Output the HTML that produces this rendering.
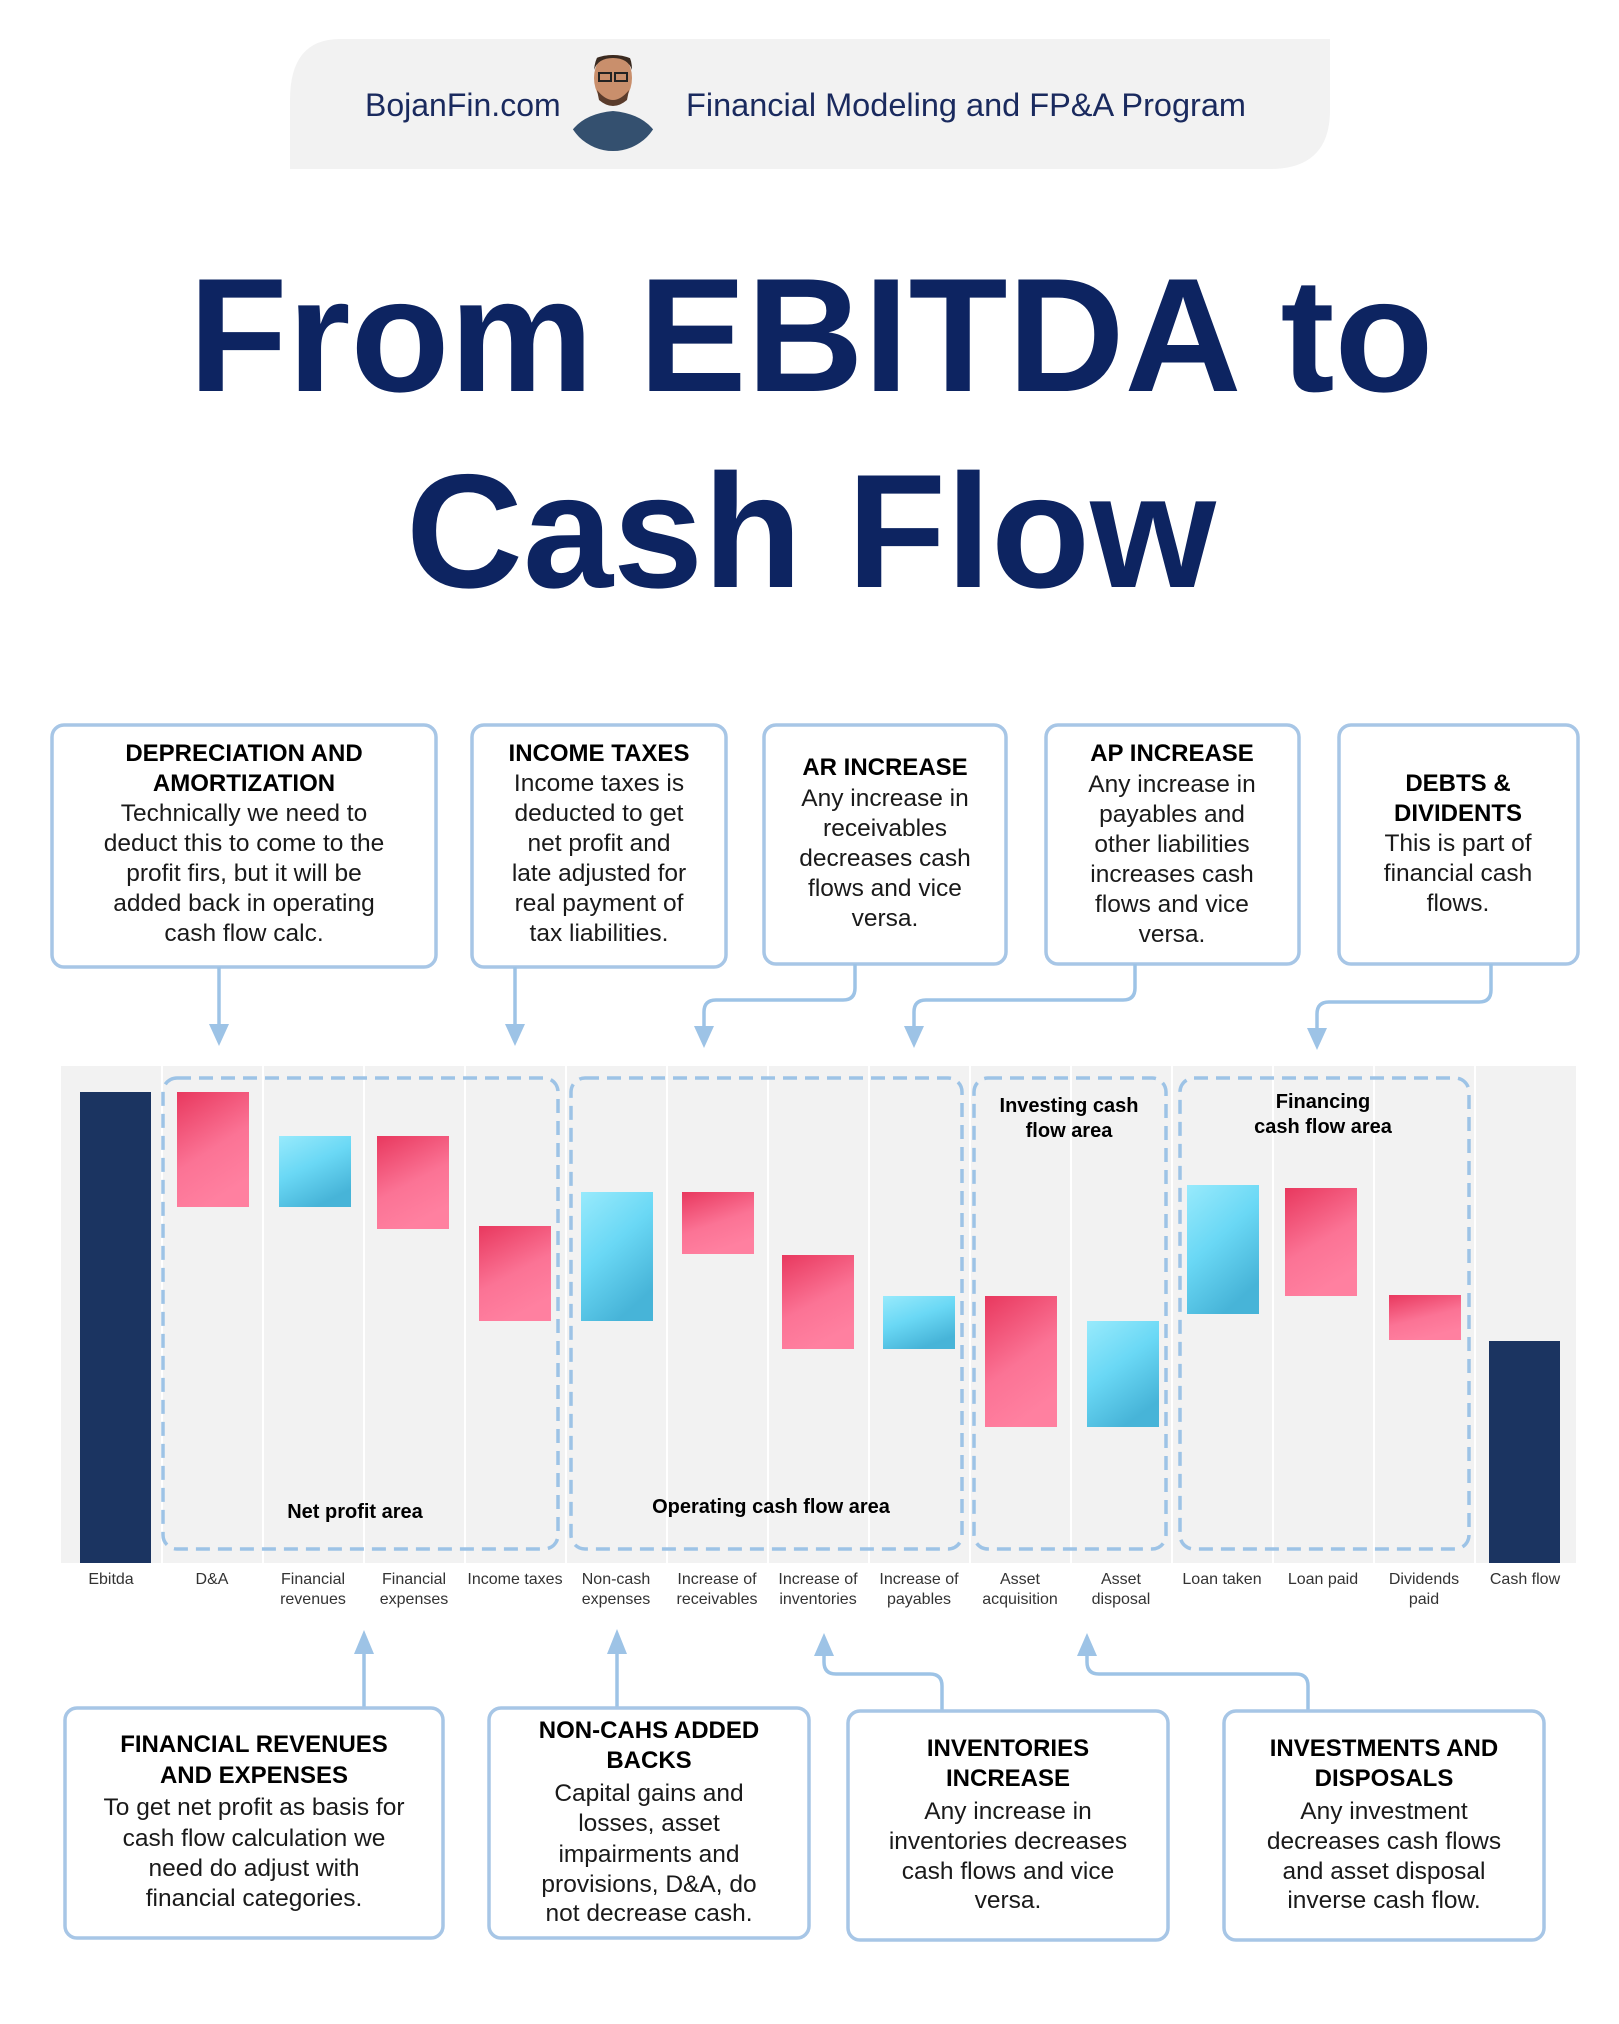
<!DOCTYPE html>
<html><head><meta charset="utf-8"><style>
html,body{margin:0;padding:0;background:#fff}
svg{display:block}
text{font-family:"Liberation Sans",sans-serif}
.bt{font-size:24.5px;fill:#1a1a1a;text-anchor:middle}
.bh{font-size:24px;font-weight:bold;fill:#000;text-anchor:middle}
.xl{font-size:16px;fill:#333;text-anchor:middle}
.al{font-size:20px;font-weight:bold;fill:#000;text-anchor:middle}
.box{fill:#fff;stroke:#a7c6e6;stroke-width:3.5}
.ar{fill:none;stroke:#9dc3e6;stroke-width:3.5}
.ah{fill:#9dc3e6}
.dash{fill:none;stroke:#9dc3e6;stroke-width:3.5;stroke-dasharray:14 8}
</style></head><body>
<svg width="1619" height="2024" viewBox="0 0 1619 2024" xmlns="http://www.w3.org/2000/svg">
<defs>
<linearGradient id="pk" x1="0" y1="0" x2="0.4" y2="1"><stop offset="0" stop-color="#e8385e"/><stop offset="0.6" stop-color="#fb7395"/><stop offset="1" stop-color="#ff80a0"/></linearGradient>
<linearGradient id="cy" x1="0" y1="0" x2="0.5" y2="1"><stop offset="0" stop-color="#98eafc"/><stop offset="0.5" stop-color="#6ad8f5"/><stop offset="1" stop-color="#47b4d8"/></linearGradient>
<clipPath id="cc"><circle cx="613" cy="103" r="48"/></clipPath>
</defs>
<path d="M340 39 H1330 V110 Q1330 169 1270 169 H290 V100 Q290 39 340 39 Z" fill="#f2f2f2"/>
<text x="365" y="116" font-size="32" fill="#1a2a5e">BojanFin.com</text>
<text x="686" y="116" font-size="32.5" fill="#1a2a5e">Financial Modeling and FP&amp;A Program</text>
<g clip-path="url(#cc)">
<circle cx="613" cy="103" r="48" fill="#f2f2f2"/>
<path d="M563 152 Q570 115 613 111 Q656 115 663 152 Z" fill="#34506f"/>
<ellipse cx="613" cy="78" rx="19" ry="26" fill="#c98f6c"/>
<path d="M594 70 Q596 48 613 48 Q632 48 632 70 Q628 58 613 58 Q598 58 594 70Z" fill="#3a2a20"/>
<path d="M597 90 Q613 110 629 90 L627 100 Q613 112 599 100Z" fill="#5a3c2c"/>
<rect x="599" y="73" width="12" height="8" fill="none" stroke="#222" stroke-width="2"/>
<rect x="615" y="73" width="12" height="8" fill="none" stroke="#222" stroke-width="2"/>
</g>
<text x="811" y="391" font-size="162" font-weight="bold" fill="#0d2461" text-anchor="middle">From EBITDA to</text>
<text x="811" y="587" font-size="162" font-weight="bold" fill="#0d2461" text-anchor="middle">Cash Flow</text>

<rect class="box" x="52" y="725" width="384" height="242" rx="12"/>
<text class="bh" x="244" y="761">DEPRECIATION AND</text>
<text class="bh" x="244" y="791">AMORTIZATION</text>
<text class="bt" x="244" y="821">Technically we need to</text>
<text class="bt" x="244" y="851">deduct this to come to the</text>
<text class="bt" x="244" y="881">profit firs,  but it will be</text>
<text class="bt" x="244" y="911">added back in operating</text>
<text class="bt" x="244" y="941">cash flow calc.</text>

<rect class="box" x="472" y="725" width="254" height="242" rx="12"/>
<text class="bh" x="599" y="761">INCOME TAXES</text>
<text class="bt" x="599" y="791">Income taxes is</text>
<text class="bt" x="599" y="821">deducted to get</text>
<text class="bt" x="599" y="851">net profit and</text>
<text class="bt" x="599" y="881">late adjusted for</text>
<text class="bt" x="599" y="911">real payment of</text>
<text class="bt" x="599" y="941">tax liabilities.</text>

<rect class="box" x="764" y="725" width="242" height="239" rx="12"/>
<text class="bh" x="885" y="775">AR INCREASE</text>
<text class="bt" x="885" y="806">Any increase in</text>
<text class="bt" x="885" y="836">receivables</text>
<text class="bt" x="885" y="866">decreases cash</text>
<text class="bt" x="885" y="896">flows and vice</text>
<text class="bt" x="885" y="926">versa.</text>

<rect class="box" x="1046" y="725" width="253" height="239" rx="12"/>
<text class="bh" x="1172" y="761">AP INCREASE</text>
<text class="bt" x="1172" y="792">Any increase in</text>
<text class="bt" x="1172" y="822">payables and</text>
<text class="bt" x="1172" y="852">other liabilities</text>
<text class="bt" x="1172" y="882">increases cash</text>
<text class="bt" x="1172" y="912">flows and vice</text>
<text class="bt" x="1172" y="942">versa.</text>

<rect class="box" x="1339" y="725" width="239" height="239" rx="12"/>
<text class="bh" x="1458" y="791">DEBTS &amp;</text>
<text class="bh" x="1458" y="821">DIVIDENTS</text>
<text class="bt" x="1458" y="851">This is part of</text>
<text class="bt" x="1458" y="881">financial cash</text>
<text class="bt" x="1458" y="911">flows.</text>

<path class="ar" d="M219 967 V1028"/><path class="ah" d="M209 1024 H229 L219 1046Z"/>
<path class="ar" d="M515 967 V1028"/><path class="ah" d="M505 1024 H525 L515 1046Z"/>
<path class="ar" d="M855 964 V988 Q855 1000 843 1000 H716 Q704 1000 704 1012 V1030"/><path class="ah" d="M694 1026 H714 L704 1048Z"/>
<path class="ar" d="M1135 964 V988 Q1135 1000 1123 1000 H926 Q914 1000 914 1012 V1030"/><path class="ah" d="M904 1026 H924 L914 1048Z"/>
<path class="ar" d="M1491 964 V990 Q1491 1002 1479 1002 H1329 Q1317 1002 1317 1014 V1032"/><path class="ah" d="M1307 1028 H1327 L1317 1050Z"/>

<rect x="61" y="1066" width="1515" height="497" fill="#f2f2f2"/>
<g stroke="#fff" stroke-width="2">
<line x1="162" y1="1066" x2="162" y2="1563"/><line x1="263" y1="1066" x2="263" y2="1563"/><line x1="364" y1="1066" x2="364" y2="1563"/><line x1="465" y1="1066" x2="465" y2="1563"/><line x1="566" y1="1066" x2="566" y2="1563"/><line x1="667" y1="1066" x2="667" y2="1563"/><line x1="768" y1="1066" x2="768" y2="1563"/><line x1="869" y1="1066" x2="869" y2="1563"/><line x1="970" y1="1066" x2="970" y2="1563"/><line x1="1071" y1="1066" x2="1071" y2="1563"/><line x1="1172" y1="1066" x2="1172" y2="1563"/><line x1="1273" y1="1066" x2="1273" y2="1563"/><line x1="1374" y1="1066" x2="1374" y2="1563"/><line x1="1475" y1="1066" x2="1475" y2="1563"/>
</g>
<rect x="80" y="1092" width="71" height="471" fill="#1b3461"/>
<rect x="177" y="1092" width="72" height="115" fill="url(#pk)"/>
<rect x="279" y="1136" width="72" height="71" fill="url(#cy)"/>
<rect x="377" y="1136" width="72" height="93" fill="url(#pk)"/>
<rect x="479" y="1226" width="72" height="95" fill="url(#pk)"/>
<rect x="581" y="1192" width="72" height="129" fill="url(#cy)"/>
<rect x="682" y="1192" width="72" height="62" fill="url(#pk)"/>
<rect x="782" y="1255" width="72" height="94" fill="url(#pk)"/>
<rect x="883" y="1296" width="72" height="53" fill="url(#cy)"/>
<rect x="985" y="1296" width="72" height="131" fill="url(#pk)"/>
<rect x="1087" y="1321" width="72" height="106" fill="url(#cy)"/>
<rect x="1187" y="1185" width="72" height="129" fill="url(#cy)"/>
<rect x="1285" y="1188" width="72" height="108" fill="url(#pk)"/>
<rect x="1389" y="1295" width="72" height="45" fill="url(#pk)"/>
<rect x="1489" y="1341" width="71" height="222" fill="#1b3461"/>

<rect class="dash" x="163" y="1078" width="395" height="471" rx="14"/>
<rect class="dash" x="571" y="1078" width="391" height="471" rx="14"/>
<rect class="dash" x="974" y="1078" width="192" height="471" rx="14"/>
<rect class="dash" x="1180" y="1078" width="289" height="471" rx="14"/>
<text class="al" x="355" y="1518">Net profit area</text>
<text class="al" x="771" y="1513">Operating cash flow area</text>
<text class="al" x="1069" y="1112">Investing cash</text>
<text class="al" x="1069" y="1137">flow area</text>
<text class="al" x="1323" y="1108">Financing</text>
<text class="al" x="1323" y="1133">cash flow area</text>

<text class="xl" x="111" y="1584">Ebitda</text>
<text class="xl" x="212" y="1584">D&amp;A</text>
<text class="xl" x="313" y="1584">Financial</text><text class="xl" x="313" y="1604">revenues</text>
<text class="xl" x="414" y="1584">Financial</text><text class="xl" x="414" y="1604">expenses</text>
<text class="xl" x="515" y="1584">Income taxes</text>
<text class="xl" x="616" y="1584">Non-cash</text><text class="xl" x="616" y="1604">expenses</text>
<text class="xl" x="717" y="1584">Increase of</text><text class="xl" x="717" y="1604">receivables</text>
<text class="xl" x="818" y="1584">Increase of</text><text class="xl" x="818" y="1604">inventories</text>
<text class="xl" x="919" y="1584">Increase of</text><text class="xl" x="919" y="1604">payables</text>
<text class="xl" x="1020" y="1584">Asset</text><text class="xl" x="1020" y="1604">acquisition</text>
<text class="xl" x="1121" y="1584">Asset</text><text class="xl" x="1121" y="1604">disposal</text>
<text class="xl" x="1222" y="1584">Loan taken</text>
<text class="xl" x="1323" y="1584">Loan paid</text>
<text class="xl" x="1424" y="1584">Dividends</text><text class="xl" x="1424" y="1604">paid</text>
<text class="xl" x="1525" y="1584">Cash flow</text>

<path class="ar" d="M364 1708 V1650"/><path class="ah" d="M354 1654 H374 L364 1630Z"/>
<path class="ar" d="M617 1708 V1650"/><path class="ah" d="M607 1654 H627 L617 1629Z"/>
<path class="ar" d="M942 1711 V1686 Q942 1674 930 1674 H836 Q824 1674 824 1662 V1652"/><path class="ah" d="M814 1656 H834 L824 1633Z"/>
<path class="ar" d="M1308 1711 V1686 Q1308 1674 1296 1674 H1099 Q1087 1674 1087 1662 V1652"/><path class="ah" d="M1077 1656 H1097 L1087 1633Z"/>

<rect class="box" x="65" y="1708" width="378" height="230" rx="12"/>
<text class="bh" x="254" y="1752">FINANCIAL REVENUES</text>
<text class="bh" x="254" y="1783">AND EXPENSES</text>
<text class="bt" x="254" y="1815">To get net profit as basis for</text>
<text class="bt" x="254" y="1846">cash flow calculation we</text>
<text class="bt" x="254" y="1876">need do adjust with</text>
<text class="bt" x="254" y="1906">financial categories.</text>

<rect class="box" x="489" y="1708" width="320" height="230" rx="12"/>
<text class="bh" x="649" y="1738">NON-CAHS ADDED</text>
<text class="bh" x="649" y="1768">BACKS</text>
<text class="bt" x="649" y="1801">Capital gains and</text>
<text class="bt" x="649" y="1831">losses, asset</text>
<text class="bt" x="649" y="1862">impairments and</text>
<text class="bt" x="649" y="1892">provisions, D&amp;A, do</text>
<text class="bt" x="649" y="1921">not decrease cash.</text>

<rect class="box" x="848" y="1711" width="320" height="229" rx="12"/>
<text class="bh" x="1008" y="1756">INVENTORIES</text>
<text class="bh" x="1008" y="1786">INCREASE</text>
<text class="bt" x="1008" y="1819">Any increase in</text>
<text class="bt" x="1008" y="1849">inventories decreases</text>
<text class="bt" x="1008" y="1879">cash flows and vice</text>
<text class="bt" x="1008" y="1908">versa.</text>

<rect class="box" x="1224" y="1711" width="320" height="229" rx="12"/>
<text class="bh" x="1384" y="1756">INVESTMENTS AND</text>
<text class="bh" x="1384" y="1786">DISPOSALS</text>
<text class="bt" x="1384" y="1819">Any investment</text>
<text class="bt" x="1384" y="1849">decreases cash flows</text>
<text class="bt" x="1384" y="1879">and asset disposal</text>
<text class="bt" x="1384" y="1908">inverse cash flow.</text>
</svg>
</body></html>
